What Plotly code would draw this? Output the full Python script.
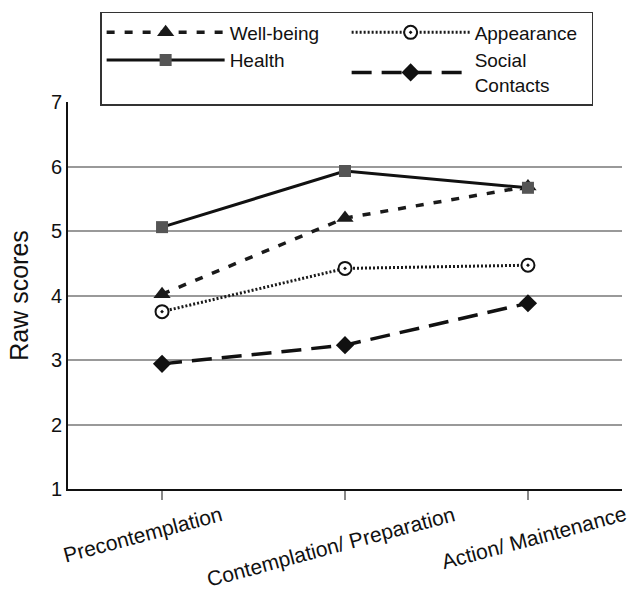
import plotly.graph_objects as go

categories = ["Precontemplation", "Contemplation/ Preparation", "Action/ Maintenance"]
wellbeing = [4.02, 5.20, 5.69]
health = [5.06, 5.93, 5.67]
appearance = [3.75, 4.42, 4.47]
social = [2.94, 3.23, 3.88]
series_names = ["Well-being", "Appearance", "Health", "Social<br>Contacts"]

# per-label horizontal nudge of the rotated category labels (layout only)
label_nudge = [-20, -14, 6]

fig = go.Figure()
fig.add_trace(go.Scatter(x=categories, y=wellbeing, name=series_names[0], mode="lines+markers",
                         line=dict(color="#1a1a1a", width=3.5, dash="8px,10px"),
                         marker=dict(symbol="triangle-up", size=15, color="#1a1a1a")))
fig.add_trace(go.Scatter(x=categories, y=appearance, name=series_names[1], mode="lines+markers",
                         line=dict(color="#1a1a1a", width=3, dash="2px,2px"),
                         marker=dict(symbol="circle-dot", size=13, color="white",
                                     line=dict(color="#111111", width=2))))
fig.add_trace(go.Scatter(x=categories, y=health, name=series_names[2], mode="lines+markers",
                         line=dict(color="#111111", width=3),
                         marker=dict(symbol="square", size=12, color="#555555")))
fig.add_trace(go.Scatter(x=categories, y=social, name=series_names[3], mode="lines+markers",
                         line=dict(color="#111111", width=3.5, dash="20px,10px"),
                         marker=dict(symbol="diamond", size=14, color="#111111")))

for c, dx in zip(categories, label_nudge):
    fig.add_annotation(x=c, xref="x", y=-0.028, yref="paper", text=c, showarrow=False,
                       textangle=-15, xanchor="center", yanchor="top", xshift=dx,
                       font=dict(size=21, color="#111111"))

fig.update_layout(
    width=630, height=590,
    margin=dict(l=68, r=8, t=102, b=101, autoexpand=False),
    paper_bgcolor="white", plot_bgcolor="white",
    font=dict(family="Liberation Sans, Arial", size=20, color="#111111"),
    showlegend=True,
    legend=dict(orientation="h", x=0.058, y=1.2326, xanchor="left", yanchor="top",
                entrywidth=112, entrywidthmode="pixels",
                bordercolor="#333333", borderwidth=1.5, bgcolor="white",
                font=dict(size=19), tracegroupgap=0, itemwidth=118),
    xaxis=dict(type="category", range=[-0.514, 2.514], showgrid=False,
               showline=True, linecolor="#111111", linewidth=2,
               ticks="outside", tickcolor="#888888", ticklen=9, tickwidth=1.5,
               showticklabels=False, automargin=False),
    yaxis=dict(range=[1, 7], dtick=1, showgrid=True, gridcolor="#999999", gridwidth=1.5,
               showline=True, linecolor="#111111", linewidth=2, zeroline=False,
               ticks="", tickfont=dict(size=20), automargin=False,
               title=dict(text="Raw scores", font=dict(size=25))),
)
fig.write_html("out.html", config={"displayModeBar": False},
               post_script="document.body.style.margin='0';")
